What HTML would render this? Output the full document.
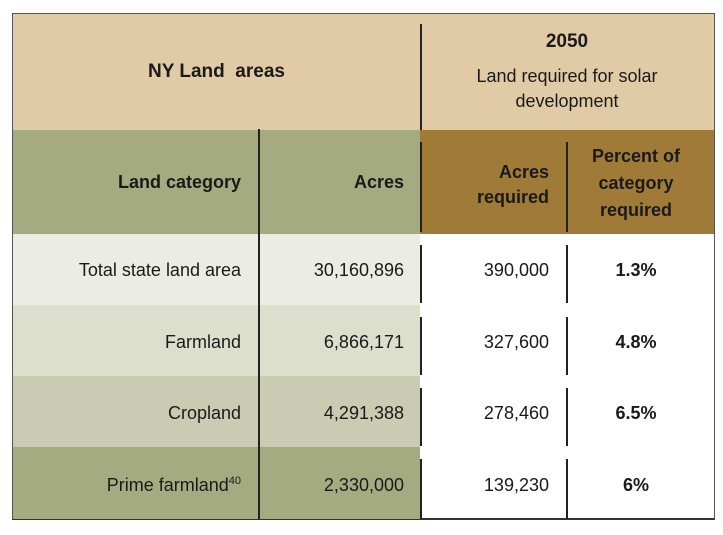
<!DOCTYPE html>
<html><head><style>
body{margin:0;width:723px;height:535px;background:#fff;position:relative;font-family:"Liberation Sans",sans-serif;color:#1a1a1a;overflow:hidden}
.a{position:absolute;box-sizing:border-box}
.t{position:absolute;font-size:18px;line-height:20px;white-space:nowrap}
.r{text-align:right}
.c{text-align:center}
.b{font-weight:bold}
.v{position:absolute;width:1.5px;background:#222}
</style></head><body>
<div class="a" style="left:12px;top:13px;width:703px;height:507px;border:1.5px solid #555;border-bottom:2px solid #333"></div>
<div class="a" style="left:13px;top:14px;width:701px;height:116px;background:#E0CBA6"></div>
<div class="a" style="left:13px;top:130px;width:407px;height:104px;background:#A5AB80"></div>
<div class="a" style="left:420px;top:130px;width:294px;height:104px;background:#A07B37"></div>
<div class="a" style="left:13px;top:234px;width:407px;height:71px;background:#EBECE4"></div>
<div class="a" style="left:13px;top:305px;width:407px;height:71px;background:#DCDFCC"></div>
<div class="a" style="left:13px;top:376px;width:407px;height:71px;background:#C9CCB2"></div>
<div class="a" style="left:13px;top:447px;width:407px;height:72px;background:#A5AB80"></div>

<div class="v" style="left:420px;top:24px;height:106px"></div>
<div class="v" style="left:258px;top:129px;height:390px"></div>
<div class="v" style="left:420px;top:142px;height:90px"></div>
<div class="v" style="left:566px;top:142px;height:90px"></div>
<div class="v" style="left:420px;top:245px;height:58px"></div>
<div class="v" style="left:566px;top:245px;height:58px"></div>
<div class="v" style="left:420px;top:317px;height:58px"></div>
<div class="v" style="left:566px;top:317px;height:58px"></div>
<div class="v" style="left:420px;top:388px;height:58px"></div>
<div class="v" style="left:566px;top:388px;height:58px"></div>
<div class="v" style="left:420px;top:459px;height:60px"></div>
<div class="v" style="left:566px;top:459px;height:60px"></div>

<div class="t b c" style="left:13px;width:407px;top:62px;font-size:19px">NY Land&nbsp; areas</div>
<div class="t b c" style="left:420px;width:294px;top:32px;font-size:19px">2050</div>
<div class="t c" style="left:420px;width:294px;top:64px;line-height:25px">Land required for solar<br>development</div>

<div class="t b r" style="left:20px;width:221px;top:172px">Land category</div>
<div class="t b r" style="left:260px;width:144px;top:172px">Acres</div>
<div class="t b r" style="left:422px;width:127px;top:160px;line-height:25px">Acres<br>required</div>
<div class="t b c" style="left:568px;width:136px;top:143px;line-height:27px">Percent of<br>category<br>required</div>

<div class="t r" style="left:20px;width:221px;top:260px">Total state land area</div>
<div class="t r" style="left:260px;width:144px;top:260px">30,160,896</div>
<div class="t r" style="left:422px;width:127px;top:260px">390,000</div>
<div class="t b c" style="left:568px;width:136px;top:260px">1.3%</div>

<div class="t r" style="left:20px;width:221px;top:332px">Farmland</div>
<div class="t r" style="left:260px;width:144px;top:332px">6,866,171</div>
<div class="t r" style="left:422px;width:127px;top:332px">327,600</div>
<div class="t b c" style="left:568px;width:136px;top:332px">4.8%</div>

<div class="t r" style="left:20px;width:221px;top:403px">Cropland</div>
<div class="t r" style="left:260px;width:144px;top:403px">4,291,388</div>
<div class="t r" style="left:422px;width:127px;top:403px">278,460</div>
<div class="t b c" style="left:568px;width:136px;top:403px">6.5%</div>

<div class="t r" style="left:20px;width:221px;top:475px">Prime farmland<sup style="font-size:11px;vertical-align:7px;line-height:0">40</sup></div>
<div class="t r" style="left:260px;width:144px;top:475px">2,330,000</div>
<div class="t r" style="left:422px;width:127px;top:475px">139,230</div>
<div class="t b c" style="left:568px;width:136px;top:475px">6%</div>
</body></html>
